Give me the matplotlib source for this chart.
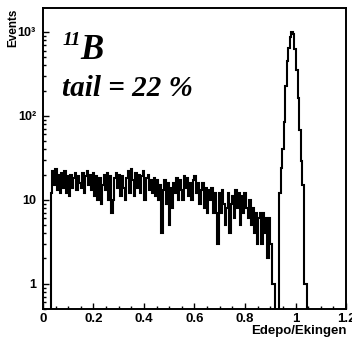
import numpy as np
import matplotlib
matplotlib.use('Agg')
import matplotlib.pyplot as plt
from matplotlib.ticker import FixedLocator, FixedFormatter, MultipleLocator, LogLocator, NullFormatter

# 200 bins of width 0.006 from 0 to 1.2
bin_edges = np.linspace(0, 1.2, 201)

# tail: bins starting at 0.030 up to 0.918
tail_start_bin = 5
tail_counts = [
    12, 22, 15, 23, 13, 20, 12, 21, 14, 22,
    12, 19, 11, 20, 14, 18, 21, 13, 19, 16,
    14, 21, 12, 19, 22, 15, 20, 13, 21, 11,
    19, 10, 18, 9, 15, 20, 13, 21, 10, 19,
    7, 10, 18, 21, 14, 20, 11, 19, 14, 10,
    18, 22, 12, 23, 17, 11, 21, 14, 20, 12,
    19, 22, 10, 18, 20, 13, 17, 12, 18, 11,
    17, 10, 15, 4, 13, 17, 9, 16, 5, 14,
    8, 16, 12, 18, 10, 17, 13, 10, 19, 14,
    18, 11, 16, 10, 17, 19, 12, 16, 9, 13,
    16, 8, 14, 7, 13, 10, 14, 7, 12, 7,
    3, 12, 7, 13, 9, 5, 8, 12, 4, 9,
    11, 6, 13, 8, 12, 5, 11, 7, 12, 8,
    6, 10, 5, 8, 4, 7, 3, 6, 7, 3,
    7, 4, 6, 2, 6, 3, 1, 1,
]

# peak: bins starting at 0.936
peak_start_bin = 156
peak_counts = [12, 24, 40, 85, 230, 450, 650, 870, 1000, 940,
               620, 355, 165, 68, 29, 15, 1, 1]

counts = np.zeros(200)
counts[tail_start_bin:tail_start_bin + len(tail_counts)] = tail_counts
counts[peak_start_bin:peak_start_bin + len(peak_counts)] = peak_counts

y_ticks = [1, 10, 100, 1000]
y_tick_labels = ['1', '10', '10²', '10³']
x_ticks = [0, 0.2, 0.4, 0.6, 0.8, 1.0, 1.2]
x_tick_labels = ['0', '0.2', '0.4', '0.6', '0.8', '1', '1.2']

plt.rcParams['font.family'] = ['Liberation Sans', 'DejaVu Sans']
plt.rcParams['font.weight'] = 'bold'

fig = plt.figure(figsize=(3.52, 3.47), dpi=100)
ax = fig.add_axes([0.122, 0.1095, 0.861, 0.8675])

# zero bins are pushed below the axis so the outline drops to the bottom
shown = np.where(counts > 0, counts, 1e-2)
ax.stairs(shown, bin_edges, color='black', linewidth=1.5, baseline=None)

ax.set_yscale('log')
ax.set_xlim(0, 1.2)
ax.set_ylim(0.5, 1930)

ax.yaxis.set_major_locator(FixedLocator(y_ticks))
ax.yaxis.set_major_formatter(FixedFormatter(y_tick_labels))
ax.yaxis.set_minor_locator(LogLocator(base=10, subs=np.arange(2, 10)))
ax.yaxis.set_minor_formatter(NullFormatter())
ax.xaxis.set_major_locator(FixedLocator(x_ticks))
ax.xaxis.set_major_formatter(FixedFormatter(x_tick_labels))
ax.xaxis.set_minor_locator(MultipleLocator(0.05))

ax.tick_params(which='both', direction='in', width=1.0, labelsize=9.5)
ax.tick_params(axis='y', labelsize=9)
ax.tick_params(which='major', length=4.5)
ax.tick_params(which='minor', length=2.3)
ax.tick_params(axis='y', pad=5)
ax.tick_params(axis='x', pad=3)
for lbl in ax.get_xticklabels() + ax.get_yticklabels():
    lbl.set_fontweight('bold')
for sp in ax.spines.values():
    sp.set_linewidth(1.4)

fig.text(0.985, 0.03, 'Edepo/Ekingen', ha='right', va='bottom',
         fontsize=9.5, fontweight='bold')
fig.text(0.037, 0.975, 'Events', ha='center', va='top', rotation=90,
         fontsize=8.5, fontweight='bold')

serif = ['Liberation Serif', 'DejaVu Serif']
ax.text(0.066, 0.877, '11', transform=ax.transAxes, family=serif,
        fontsize=14, fontweight='bold', style='italic', va='baseline')
ax.text(0.125, 0.831, 'B', transform=ax.transAxes, family=serif,
        fontsize=25, fontweight='bold', style='italic', va='baseline')
ax.text(0.063, 0.708, 'tail = 22 %', transform=ax.transAxes, family=serif,
        fontsize=21, fontweight='bold', style='italic', va='baseline')

fig.savefig('out.png', dpi=100)
